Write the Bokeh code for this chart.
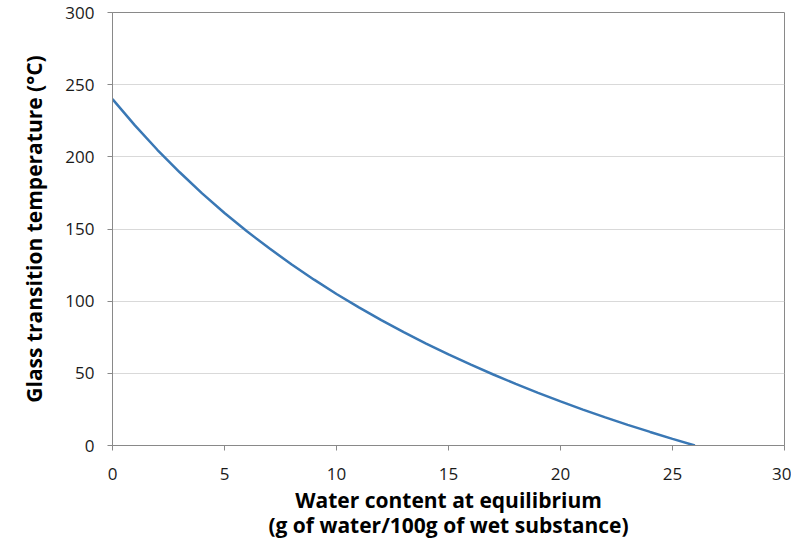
from bokeh.plotting import figure
from bokeh.models import Range1d, FixedTicker
from bokeh.embed import file_html
from bokeh.resources import INLINE

# Water content (g water / 100 g wet substance) and glass transition temperature (°C)
water = [0, 1, 2, 3, 4, 5, 6, 7, 8, 9, 10, 11, 12, 13, 14, 15, 16, 17, 18, 19, 20,
         21, 22, 23, 24, 25, 26]
tg = [240, 221.8, 204.9, 189.3, 174.7, 161.1, 148.4, 136.6, 125.4, 114.9, 105.0,
      95.7, 86.9, 78.5, 70.6, 63.1, 56.0, 49.2, 42.7, 36.5, 30.6,
      24.9, 19.5, 14.3, 9.4, 4.6, 0]
x_ticks = [0, 5, 10, 15, 20, 25, 30]
y_ticks = [0, 50, 100, 150, 200, 250, 300]

FONT = "Open Sans"

p = figure(width=791, height=553, output_backend="svg", toolbar_location=None,
           x_range=Range1d(0, 30), y_range=Range1d(0, 300),
           min_border_left=112, min_border_right=7, min_border_top=12, min_border_bottom=108)

p.line(water, tg, line_color="#3a78b5", line_width=2.5)

p.outline_line_color = "#898989"
p.outline_line_width = 1
p.background_fill_color = "white"
p.border_fill_color = "white"

p.xgrid.grid_line_color = None
p.ygrid.grid_line_color = "#d9d9d9"
p.ygrid.grid_line_width = 1

for ax in (p.xaxis[0], p.yaxis[0]):
    ax.axis_line_color = "#898989"
    ax.major_tick_line_color = "#898989"
    ax.major_tick_out = 5
    ax.major_tick_in = 0
    ax.minor_tick_line_color = None
    ax.major_label_text_font = FONT
    ax.major_label_text_font_size = "17px"
    ax.major_label_text_color = "#1a1a1a"
    ax.axis_label_text_font = FONT
    ax.axis_label_text_font_style = "bold"
    ax.axis_label_text_font_size = "21px"
    ax.axis_label_text_color = "#000000"

p.xaxis[0].ticker = FixedTicker(ticks=x_ticks)
p.yaxis[0].ticker = FixedTicker(ticks=y_ticks)
p.xaxis[0].major_label_standoff = 17
p.yaxis[0].major_label_standoff = 13
p.xaxis[0].axis_label = "Water content at equilibrium\n(g of water/100g of wet substance)"
p.yaxis[0].axis_label = "Glass transition temperature (°C)"
p.xaxis[0].axis_label_text_line_height = 0.9
p.xaxis[0].axis_label_standoff = 3
p.yaxis[0].axis_label_standoff = 14

open("out.html", "w").write(file_html(p, INLINE))
